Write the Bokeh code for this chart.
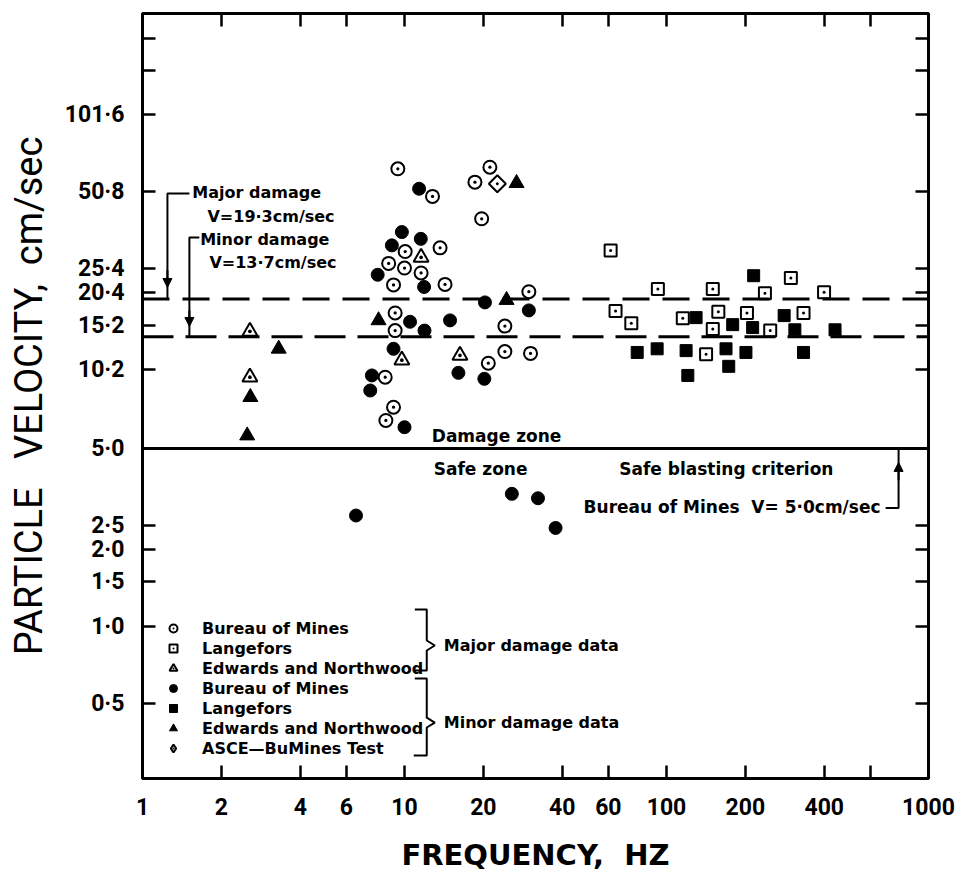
import numpy as np
from bokeh.plotting import figure
from bokeh.models import (Range1d, FixedTicker, LogAxis, CustomJSTickFormatter, Span, Label,
                          Arrow, NormalHead, Legend, LegendItem)
from bokeh.embed import file_html
from bokeh.resources import INLINE

# ---------------- data: frequency (Hz), particle velocity (cm/sec) ----------------
# Major damage data
BOM_MAJOR_F = [9.43, 12.79, 18.57, 21.18, 19.70, 10.06, 13.67, 8.70, 10.0, 11.57, 9.08,
               14.28, 9.21, 9.21, 8.44, 9.08, 8.49, 29.83, 24.16, 24.16, 30.27, 20.89]
BOM_MAJOR_V = [62.5, 48.7, 55.4, 63.4, 39.8, 29.6, 30.6, 26.6, 25.5, 24.4, 21.9,
               22.0, 17.0, 14.5, 9.52, 7.26, 6.44, 20.6, 15.1, 12.0, 11.8, 10.8]
LANG_MAJOR_F = [61.2, 92.7, 63.9, 73.4, 115.4, 150.2, 298.3, 237.5, 399.4, 157.7, 202.8,
                150.2, 248.8, 333.4, 141.6]
LANG_MAJOR_V = [29.9, 21.1, 17.3, 15.5, 16.2, 21.1, 23.3, 20.3, 20.5, 17.2, 17.0,
                14.7, 14.5, 17.0, 11.7]
EDW_MAJOR_F = [2.57, 2.57, 11.57, 9.77, 16.28]
EDW_MAJOR_V = [14.4, 9.52, 28.1, 11.1, 11.6]
# Minor damage data
BOM_MINOR_F = [11.37, 9.77, 8.95, 11.54, 7.90, 11.88, 10.5, 14.92, 11.92, 9.08, 16.06,
               7.51, 7.40, 10.0, 20.28, 29.83, 20.17, 6.53, 25.69, 32.32, 37.72]
BOM_MINOR_V = [52.2, 35.3, 31.3, 33.2, 24.0, 21.5, 15.7, 15.9, 14.5, 12.3, 9.9,
               9.67, 8.44, 6.06, 18.7, 17.4, 9.38, 2.73, 3.32, 3.19, 2.44]
LANG_MINOR_F = [77.3, 92.1, 118.8, 120.6, 129.7, 215.1, 178.9, 213.2, 281.2, 309.0, 439.8,
                168.7, 201.0, 333.4, 172.8]
LANG_MINOR_V = [11.9, 12.3, 12.1, 9.67, 16.3, 23.8, 15.3, 14.9, 16.6, 14.6, 14.6,
                12.3, 11.9, 11.9, 10.5]
EDW_MINOR_F = [3.31, 2.58, 2.51, 7.96, 26.77, 24.52]
EDW_MINOR_V = [12.3, 7.95, 5.62, 15.9, 54.9, 19.1]
ASCE_F = [22.61]
ASCE_V = [54.6]

# criteria (cm/sec)
MAJOR_CRIT = 19.3
MINOR_CRIT = 13.7
SAFE_CRIT = 5.0

# ticks
X_TICKS = [1, 2, 4, 6, 10, 20, 40, 60, 100, 200, 400, 1000]
X_LABELS = ["1", "2", "4", "6", "10", "20", "40", "60", "100", "200", "400", "1000"]
X_MINOR = [600]
Y_TICKS = [0.5, 1.0, 1.5, 2.0, 2.5, 5.0, 10.2, 15.2, 20.4, 25.4, 50.8, 101.6]
Y_LABELS = ["0·5", "1·0", "1·5", "2·0", "2·5", "5·0", "10·2", "15·2", "20·4", "25·4", "50·8", "101·6"]
Y_MINOR = [152.4, 203.2]

LEGEND_LABELS = ["Bureau of Mines", "Langefors", "Edwards and Northwood",
                 "Bureau of Mines", "Langefors", "Edwards and Northwood", "ASCE\u2014BuMines Test"]

# ---------------- figure ----------------
p = figure(frame_width=786, frame_height=765, x_axis_type="log", y_axis_type="log",
           x_range=Range1d(1, 1000), y_range=Range1d(0.254, 254),
           output_backend="svg", toolbar_location=None,
           min_border_left=142, min_border_right=40, min_border_top=13, min_border_bottom=104,
           background_fill_color="white", border_fill_color="white")
p.xgrid.visible = False
p.ygrid.visible = False
p.outline_line_color = "black"
p.outline_line_width = 3

FMT_CODE = """
const i = v.findIndex((t) => Math.abs(t - tick) <= 1e-6 * Math.max(1, Math.abs(t)));
return i >= 0 ? l[i] : "";
"""


def style_ticks(ax):
    ax.major_tick_in = 13
    ax.major_tick_out = 0
    ax.minor_tick_in = 13
    ax.minor_tick_out = 0
    ax.major_tick_line_width = 2.5
    ax.minor_tick_line_width = 2.5
    ax.major_tick_line_color = "black"
    ax.minor_tick_line_color = "black"
    ax.axis_line_width = 3
    ax.axis_line_color = "black"


xax = p.xaxis[0]
xax.ticker = FixedTicker(ticks=X_TICKS, minor_ticks=X_MINOR)
xax.formatter = CustomJSTickFormatter(args=dict(v=X_TICKS, l=X_LABELS), code=FMT_CODE)
style_ticks(xax)
xax.major_label_standoff = 19
xax.major_label_text_font = "Roboto"
xax.major_label_text_font_style = "bold"
xax.major_label_text_font_size = "23px"
xax.major_label_text_color = "black"
xax.axis_label = "FREQUENCY,\u00a0\u00a0HZ"
xax.axis_label_text_font = "DejaVu Sans"
xax.axis_label_text_font_style = "bold"
xax.axis_label_text_font_size = "29px"
xax.axis_label_text_color = "black"
xax.axis_label_standoff = 20

yax = p.yaxis[0]
yax.ticker = FixedTicker(ticks=Y_TICKS, minor_ticks=Y_MINOR)
yax.formatter = CustomJSTickFormatter(args=dict(v=Y_TICKS, l=Y_LABELS), code=FMT_CODE)
style_ticks(yax)
yax.major_label_standoff = 18
yax.major_label_text_font = "Roboto"
yax.major_label_text_font_style = "bold"
yax.major_label_text_font_size = "23px"
yax.major_label_text_color = "black"
yax.axis_label = "PARTICLE\u00a0\u00a0 VELOCITY,\u00a0\u00a0cm/sec"
yax.axis_label_text_font = "Roboto"
yax.axis_label_text_font_style = "normal"
yax.axis_label_text_font_size = "38px"
yax.axis_label_text_color = "black"
yax.axis_label_standoff = 11

# top and right axes: tick marks only (no labels at all)
top = LogAxis(ticker=FixedTicker(ticks=[], minor_ticks=X_TICKS + X_MINOR))
style_ticks(top)
p.add_layout(top, "above")
right = LogAxis(ticker=FixedTicker(ticks=[], minor_ticks=Y_TICKS + Y_MINOR))
style_ticks(right)
p.add_layout(right, "right")

# ---------------- criteria lines ----------------
p.add_layout(Span(location=MAJOR_CRIT, dimension="width", line_color="black",
                  line_width=3, line_dash="27 13"))
p.add_layout(Span(location=MINOR_CRIT, dimension="width", line_color="black",
                  line_width=3, line_dash="31 12"))
p.add_layout(Span(location=SAFE_CRIT, dimension="width", line_color="black", line_width=3))

# ---------------- data markers ----------------
open_kw = dict(fill_color="white", line_color="black", line_width=2)
fill_kw = dict(fill_color="black", line_color="black", line_width=1)
r_bom_maj = p.scatter(BOM_MAJOR_F, BOM_MAJOR_V, marker="circle_dot", size=13, **open_kw)
r_lang_maj = p.scatter(LANG_MAJOR_F, LANG_MAJOR_V, marker="square_dot", size=12, **open_kw)
r_edw_maj = p.scatter(EDW_MAJOR_F, EDW_MAJOR_V, marker="triangle_dot", size=15, **open_kw)
r_bom_min = p.scatter(BOM_MINOR_F, BOM_MINOR_V, marker="circle", size=13, **fill_kw)
r_lang_min = p.scatter(LANG_MINOR_F, LANG_MINOR_V, marker="square", size=12, **fill_kw)
r_edw_min = p.scatter(EDW_MINOR_F, EDW_MINOR_V, marker="triangle", size=15, **fill_kw)
# diamond glyph (used by the legend), covered by the rotated-square diamond drawn on top
r_asce_leg = p.scatter(ASCE_F, ASCE_V, marker="diamond_dot", size=11, **open_kw)
r_asce = p.scatter(ASCE_F, ASCE_V, marker="square_dot", angle=np.pi / 4, size=12, **open_kw)

renderers = [r_bom_maj, r_lang_maj, r_edw_maj, r_bom_min, r_lang_min, r_edw_min, r_asce_leg]
legend = Legend(items=[LegendItem(label=lab, renderers=[r]) for lab, r in zip(LEGEND_LABELS, renderers)],
                location=(19, 20), orientation="vertical",
                glyph_width=24, glyph_height=20, label_height=20, spacing=0, padding=0, margin=0,
                label_standoff=17, label_text_font="DejaVu Sans", label_text_font_style="bold",
                label_text_font_size="16px", label_text_color="black",
                border_line_alpha=0, background_fill_alpha=0)
p.add_layout(legend)

# ---------------- annotations ----------------
TXT = dict(text_font="DejaVu Sans", text_font_style="bold", text_color="black",
           text_baseline="middle")
p.add_layout(Label(x=1.55, y=50.4, text="Major damage", text_font_size="16px", **TXT))
p.add_layout(Label(x=1.77, y=40.6, text="V=19·3cm/sec", text_font_size="16px", **TXT))
p.add_layout(Label(x=1.66, y=33.0, text="Minor damage", text_font_size="16px", **TXT))
p.add_layout(Label(x=1.80, y=26.8, text="V=13·7cm/sec", text_font_size="16px", **TXT))
p.add_layout(Label(x=12.71, y=5.62, text="Damage zone", text_font_size="17px", **TXT))
p.add_layout(Label(x=12.93, y=4.17, text="Safe zone", text_font_size="17px", **TXT))
p.add_layout(Label(x=66.0, y=4.17, text="Safe blasting criterion", text_font_size="17px", **TXT))
p.add_layout(Label(x=656.0, y=2.94, text="Bureau of Mines\u00a0\u00a0V= 5·0cm/sec",
                   text_font_size="17px", text_align="right", **TXT))
p.add_layout(Label(x=14.12, y=0.844, text="Major damage data", text_font_size="16px", **TXT))
p.add_layout(Label(x=14.12, y=0.421, text="Minor damage data", text_font_size="16px", **TXT))

LINE = dict(line_color="black", line_width=2)
# leader lines for the criteria
p.line([1.51, 1.245, 1.245], [50.0, 50.0, MAJOR_CRIT], **LINE)
p.line([1.648, 1.51, 1.51], [33.6, 33.6, MINOR_CRIT], **LINE)
p.line([686.0, 768.8, 768.8], [2.92, 2.92, SAFE_CRIT], **LINE)
head = dict(size=9, fill_color="black", line_color="black", line_width=1)
p.add_layout(Arrow(end=NormalHead(**head), x_start=1.245, y_start=25.0, x_end=1.245, y_end=21.4,
                   line_width=2))
p.add_layout(Arrow(end=NormalHead(**head), x_start=1.51, y_start=17.4, x_end=1.51, y_end=15.05,
                   line_width=2))
p.add_layout(Arrow(end=NormalHead(**head), x_start=768.8, y_start=3.75, x_end=768.8, y_end=4.41,
                   line_width=2))
# legend braces
p.line([10.95, 12.16, 12.16, 13.05, 12.16, 12.16, 10.95],
       [1.168, 1.168, 0.883, 0.844, 0.807, 0.673, 0.673], **LINE)
p.line([10.95, 12.16, 12.16, 13.05, 12.16, 12.16, 10.85],
       [0.627, 0.627, 0.440, 0.421, 0.4026, 0.3127, 0.3127], **LINE)

open("out.html", "w").write(file_html(p, INLINE))
